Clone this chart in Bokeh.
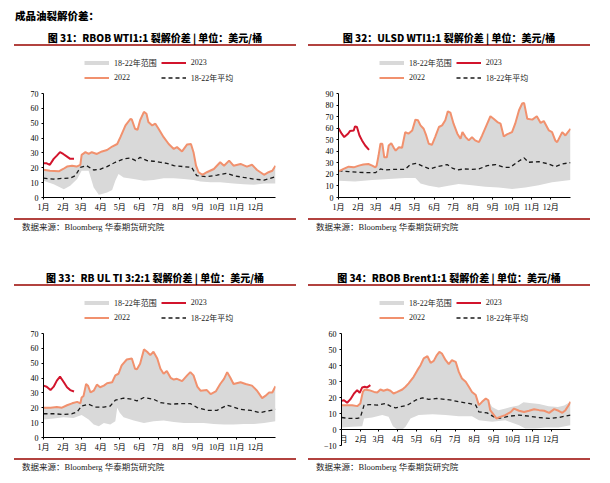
from bokeh.plotting import figure
from bokeh.models import Range1d, FixedTicker, Legend, LegendItem, Div, Spacer
from bokeh.layouts import column, row
from bokeh.embed import file_html
from bokeh.resources import INLINE

# ---------------- data ----------------
month_days = [0, 31, 59, 90, 120, 151, 181, 212, 243, 273, 304, 334]
month_labels = ["1月", "2月", "3月", "4月", "5月", "6月", "7月", "8月", "9月", "10月", "11月", "12月"]

header_text = "成品油裂解价差："
titles = ["图 31：RBOB WTI1:1 裂解价差 | 单位：美元/桶",
          "图 32：ULSD WTI1:1 裂解价差 | 单位：美元/桶",
          "图 33：RB UL TI 3:2:1 裂解价差 | 单位：美元/桶",
          "图 34：RBOB Brent1:1 裂解价差 | 单位：美元/桶"]
source_text = "数据来源：Bloomberg 华泰期货研究院"
legend_labels = ["18-22年范围", "2023", "2022", "18-22年平均"]

# Panel 1: RBOB WTI 1:1
p1_d22 = [0, 10, 24, 31, 37, 45, 52, 58, 60, 66, 71, 76, 84, 92, 100, 108, 116, 121, 129, 137, 139, 144, 148, 152,
          158, 162, 165, 171, 176, 181, 189, 197, 205, 210, 218, 226, 232, 236, 240, 244, 250, 257, 268, 278, 284,
          292, 299, 310, 320, 328, 336, 347, 354, 360, 365]
p1_v22 = [18.7, 18, 17.6, 19.2, 20.8, 21.4, 20.8, 22, 28.7, 30.5, 29.3, 30.5, 29.3, 31, 32, 34.3, 36, 40.6, 48.5,
          53, 52.4, 46.3, 45.6, 52, 57.6, 56.4, 50.8, 48.5, 49.7, 46.3, 40.6, 36, 32.7, 33.9, 31, 35.7, 36, 30.5,
          21.4, 17, 15.3, 17, 19.2, 23.7, 21.4, 24.8, 21.4, 22.6, 20.8, 22, 18.5, 15.3, 17, 18, 21.4]
p1_d23 = [0, 5, 10, 16, 21, 26, 31, 37, 42, 48]
p1_v23 = [23, 23, 22, 26, 28.2, 30.5, 29.3, 27.5, 26, 26]
p1_davg = [0, 16, 31, 42, 50, 58, 68, 79, 89, 100, 113, 126, 137, 145, 152, 163, 173, 184, 194, 205, 220, 233, 241,
           257, 273, 289, 299, 315, 331, 347, 365]
p1_vavg = [13, 12.4, 12.9, 13, 14.7, 20.3, 21.4, 18.5, 19, 20.8, 23.7, 26, 26.6, 24.8, 27, 24.8, 24.4, 23.7, 23,
           21.4, 20.8, 20.3, 14.7, 14, 15.1, 16.3, 14.7, 13.5, 12.4, 11.7, 14]
p1_dlo = [0, 16, 32, 42, 53, 60, 71, 79, 87, 92, 100, 108, 113, 118, 126, 142, 158, 173, 189, 205, 221, 236, 247,
          263, 278, 299, 315, 331, 347, 365]
p1_vlo = [11.3, 9, 5.6, 7.9, 12.4, 18, 18, 6.8, 1.8, 2.3, 3.4, 5, 11.3, 15.8, 13.5, 12.4, 11.3, 11.7, 13, 13, 12.4,
          11.7, 10.8, 10.2, 10.2, 9.5, 9, 8.6, 9.5, 9.5]
p1_dhi = p1_d22
p1_vhi = p1_v22

# Panel 2: ULSD WTI 1:1
p2_d22 = [0, 8, 16, 24, 32, 39, 47, 53, 58, 60, 63, 66, 69, 72, 76, 79, 83, 87, 90, 95, 100, 105, 110, 116, 121,
          125, 129, 134, 138, 142, 147, 152, 158, 163, 168, 172, 176, 181, 187, 192, 195, 200, 205, 210, 215, 221,
          226, 234, 239, 244, 250, 255, 260, 265, 273, 278, 284, 289, 292, 297, 305, 312, 318, 323, 331, 336, 341,
          344, 352, 357, 365]
p2_v22 = [22.6, 24.7, 26.7, 26.1, 27.6, 28.5, 29, 27.6, 26.1, 27.6, 36.3, 46.5, 46.5, 34.8, 34.8, 45, 47, 43, 40.6,
          43.5, 43, 56.6, 55.2, 58, 67.4, 66.8, 62.4, 59.5, 53.7, 46.5, 45.6, 52.3, 61, 62.4, 66.8, 74.6, 73.5, 63.9,
          55.2, 50.8, 56.6, 52.3, 49.4, 52.3, 49.4, 47.9, 53.7, 63.9, 70.3, 68.2, 65.3, 63.9, 52.8, 54.6, 56.6, 63.9,
          75.5, 81.3, 81.9, 68.2, 67.4, 70.3, 64.5, 66.2, 58, 56.6, 49.4, 47.9, 56.6, 53.7, 59.5]
p2_d23 = [0, 5, 9, 15, 18, 24, 26, 29, 33, 37, 42, 48]
p2_v23 = [60, 55.2, 52.3, 55.2, 57.5, 58, 61.6, 61, 53.7, 49.4, 45, 41.2]
p2_davg = [0, 16, 32, 47, 58, 66, 74, 89, 105, 113, 123, 134, 144, 155, 171, 179, 187, 197, 210, 221, 234, 247, 260,
           270, 281, 292, 299, 315, 331, 341, 352, 365]
p2_vavg = [23.2, 22.4, 21.8, 21.5, 21.5, 24.7, 23.8, 24.4, 24.4, 28.5, 29.6, 26.7, 24.7, 26.7, 28.5, 25.5, 23.8,
           24.7, 24.4, 24.7, 27.6, 28.5, 26.1, 26.1, 30.5, 34.3, 30.5, 31, 29, 26.7, 29, 30.2]
p2_dlo = [0, 26, 53, 79, 105, 121, 129, 142, 158, 173, 189, 210, 231, 252, 273, 294, 315, 336, 365]
p2_vlo = [14.5, 13.9, 15.1, 16, 16.8, 16.8, 12.2, 10.2, 8.7, 10.2, 11.6, 10.7, 9.3, 8.7, 7.3, 8.7, 10.7, 13.1, 15.1]
p2_dhi = p2_d22
p2_vhi = p2_v22

# Panel 3: RB UL TI 3:2:1
p3_d22 = [0, 11, 21, 29, 37, 45, 53, 58, 60, 63, 67, 70, 74, 79, 84, 89, 95, 100, 108, 113, 118, 123, 131, 139, 144,
          147, 152, 158, 163, 168, 173, 179, 184, 189, 194, 200, 205, 210, 218, 226, 231, 236, 242, 247, 257, 263,
          271, 278, 284, 289, 294, 299, 310, 318, 328, 336, 344, 349, 355, 360, 365]
p3_v22 = [20.1, 20.1, 20.5, 20.1, 21.7, 23, 24, 23, 26.9, 28, 36, 34.9, 30.3, 31.5, 35.6, 33.8, 34.9, 36.5, 37.2,
          41.8, 42.9, 48.6, 52.5, 53.2, 46.3, 45.9, 49.7, 59.3, 57.7, 55.4, 57.7, 53.2, 46.3, 42.9, 44.8, 40.2, 39,
          39.5, 37.9, 41.8, 44, 41.8, 34.2, 31.5, 31.9, 29.2, 31, 36, 39.5, 44, 40.2, 36, 37.2, 36, 34.9, 31.5, 26.5,
          28, 30.3, 30.3, 34.5]
p3_d23 = [0, 5, 11, 16, 21, 26, 32, 37, 42, 48]
p3_v23 = [34.9, 34.2, 31.9, 34.2, 38.3, 41, 37.2, 33.8, 31.9, 31]
p3_davg = [0, 16, 32, 45, 53, 60, 71, 81, 95, 105, 113, 126, 139, 147, 158, 173, 184, 200, 215, 231, 242, 257, 273,
           289, 299, 310, 326, 341, 352, 365]
p3_vavg = [16, 16, 15.5, 16, 17.3, 21.2, 22.4, 20.5, 20.5, 21.2, 25.1, 26.5, 25.8, 24.6, 26.9, 25.8, 23.5, 22.4,
           22.8, 22.8, 20.1, 18.3, 18.3, 21.7, 20.5, 18.9, 18.3, 16.7, 17.8, 18.9]
p3_dlo = [0, 16, 32, 47, 60, 71, 79, 87, 95, 105, 113, 116, 120, 126, 142, 158, 173, 189, 205, 221, 236, 252, 268,
          284, 299, 315, 331, 347, 365]
p3_vlo = [12.1, 12.8, 13.7, 13.2, 15.1, 12.1, 8.7, 7.5, 9.8, 8.7, 11, 20, 16.7, 13.7, 11.4, 9.8, 11, 11.4, 10.5,
          9.8, 9.8, 9.8, 9.1, 8.7, 8.7, 9.1, 9.1, 9.8, 11]
p3_dhi = p3_d22
p3_vhi = p3_v22

# Panel 4: RBOB Brent 1:1
p4_d22 = [0, 9, 17, 25, 30, 34, 37, 44, 52, 57, 62, 67, 73, 78, 83, 89, 97, 102, 107, 115, 121, 126, 131, 137, 142,
          147, 152, 156, 160, 166, 171, 176, 182, 187, 192, 198, 203, 208, 214, 219, 224, 230, 234, 237, 243, 247,
          253, 261, 270, 275, 283, 291, 299, 307, 315, 323, 331, 339, 346, 352, 357, 362, 365]
p4_v22 = [15.2, 15.2, 15.2, 14.6, 16.3, 23.5, 25, 24.6, 23.5, 23.1, 25, 24.2, 25, 24.2, 22.5, 23.5, 25, 26.7, 28.8,
          32.9, 37.1, 40.2, 44.4, 45.8, 41.7, 42.9, 46.5, 48.5, 47.5, 43.3, 40.8, 43.3, 42.3, 36, 31.9, 29.8, 26.7,
          23.5, 21.5, 15.2, 17.3, 19.4, 18.3, 12.1, 9, 6.9, 7.9, 9, 11, 13.1, 11.7, 11, 11.7, 12.7, 12.1, 11.7, 10.4,
          12.7, 11.7, 10.4, 12.1, 15.2, 17.3]
p4_d23 = [0, 4, 9, 14, 20, 25, 29, 33, 37, 41, 46]
p4_v23 = [17.9, 18.3, 16.7, 18.8, 22.5, 24.6, 22.9, 26.3, 26.7, 26.3, 27.7]
p4_davg = [0, 12, 25, 30, 36, 44, 57, 70, 78, 86, 94, 105, 118, 129, 139, 152, 166, 176, 187, 203, 214, 219, 232,
           243, 251, 267, 283, 299, 315, 331, 346, 365]
p4_vavg = [7.5, 6.9, 6.9, 7.5, 15.2, 15.6, 15.2, 16.3, 14.6, 13.5, 14.2, 15.2, 18.3, 19.8, 18.8, 19.4, 18.8, 18.3,
           17.3, 16.3, 15.2, 11, 10.4, 7.9, 6.9, 8.3, 9, 8.3, 7.5, 6.9, 7.5, 9]
p4_dlo = [0, 17, 33, 36, 49, 65, 75, 82, 89, 97, 102, 110, 123, 145, 166, 187, 208, 219, 240, 261, 283, 293, 309,
          325, 346, 365]
p4_vlo = [1.3, 1.7, 2.1, 6.9, 7.5, 9, 7.9, 2.1, 0, 0, 1.7, 6.9, 9, 9.6, 9, 8.3, 8.3, 5.8, 4.8, 5.8, 2.7, 0.6, 0.6,
          1.3, 1.3, 2.7]
p4_dhi = p4_d22[:42] + [234, 240, 250, 260, 270, 282, 290, 300, 315, 330, 345, 355, 365]
p4_vhi = p4_v22[:42] + [18.3, 14, 12, 13, 14, 15, 17, 16.5, 16, 14.5, 14, 15, 17.3]

# ---------------- styling ----------------
SERIF = "'Liberation Serif', 'Noto Sans CJK SC'"
C_BAND = "#d9d9d9"
C_2022 = "#f1916e"
C_2023 = "#d2142c"
C_AVG = "#1a1a1a"
C_RULE = "#b2423f"
PANEL_W = 297
FIG_H = 170
TOP = 45          # pixels above the data area reserved for the legend
LEG_BOTTOM = 35   # legend bottom edge, pixels from the figure top


def make_fig(ymin, ymax, d22, v22, d23, v23, davg, vavg, dlo, vlo, dhi, vhi, left, right, bottom, leg_x,
             axis_at_zero=False):
    data_h = FIG_H - TOP - bottom
    y_top = ymax + TOP * (ymax - ymin) / data_h
    p = figure(width=PANEL_W, height=FIG_H, x_range=Range1d(0, 365), y_range=Range1d(ymin, y_top),
               toolbar_location=None, output_backend="svg", title_location=None,
               min_border_left=left, min_border_right=right, min_border_top=0, min_border_bottom=bottom)
    p.outline_line_color = None
    p.grid.visible = False
    p.background_fill_color = "white"
    p.border_fill_color = "white"

    band_x = list(dhi) + list(reversed(dlo))
    band_y = list(vhi) + list(reversed(vlo))
    p.patch(band_x, band_y, fill_color=C_BAND, line_color=None)
    # legend swatch for the range band (hidden on the plot, shown in the legend)
    band_key = p.line(dhi, vhi, line_color=C_BAND, line_width=4, visible=False)
    ravg = p.line(davg, vavg, line_color=C_AVG, line_width=1.3, line_dash="4 3")
    r22 = p.line(d22, v22, line_color=C_2022, line_width=2)
    r23 = p.line(d23, v23, line_color=C_2023, line_width=2)

    p.xaxis.ticker = FixedTicker(ticks=month_days)
    p.xaxis.major_label_overrides = {d: lab for d, lab in zip(month_days, month_labels)}
    p.yaxis.ticker = FixedTicker(ticks=list(range(ymin, ymax + 1, 10)))
    p.yaxis.bounds = (ymin, ymax)
    for ax in (p.xaxis, p.yaxis):
        ax.axis_line_color = "black"
        ax.axis_line_width = 1
        ax.major_tick_line_color = "black"
        ax.major_tick_out = 2
        ax.major_tick_in = 0
        ax.minor_tick_line_color = None
        ax.major_label_text_font = SERIF
        ax.major_label_text_font_size = "8px"
        ax.major_label_text_color = "black"
        ax.major_label_standoff = 3
    if axis_at_zero:
        p.xaxis.fixed_location = 0

    frame_h = FIG_H - bottom
    legend = Legend(items=[LegendItem(label=legend_labels[0], renderers=[band_key]),
                           LegendItem(label=legend_labels[1], renderers=[r23]),
                           LegendItem(label=legend_labels[2], renderers=[r22]),
                           LegendItem(label=legend_labels[3], renderers=[ravg])],
                    orientation="horizontal", ncols=2, location=(leg_x, frame_h - LEG_BOTTOM),
                    glyph_width=25, glyph_height=5, label_height=10, label_width=40,
                    label_standoff=5, spacing=4, padding=3, margin=0, click_policy="none",
                    label_text_font=SERIF, label_text_font_size="8px", label_text_color="#222222",
                    border_line_color=None, background_fill_alpha=0)
    p.add_layout(legend, "center")
    return p


def title_div(text, offset):
    html = (f'<div style="margin-left:{offset}px;width:282px;height:16px;border-bottom:2px solid {C_RULE};'
            f'text-align:center;font-family:\'Noto Sans CJK SC\';font-weight:900;font-size:10px;'
            f'line-height:15px;color:#000;white-space:nowrap">{text}</div>')
    return Div(text=html, width=PANEL_W, height=18, margin=0)


def source_div(offset):
    html = (f'<div style="margin-left:{offset}px;width:282px;height:15px;border-top:2px solid {C_RULE};'
            f'padding-left:8px;box-sizing:border-box;font-family:{SERIF};font-size:8.5px;line-height:15px;'
            f'color:#222;white-space:nowrap">{source_text}</div>')
    return Div(text=html, width=PANEL_W, height=17, margin=0)


f1 = make_fig(0, 70, p1_d22, p1_v22, p1_d23, p1_v23, p1_davg, p1_vavg, p1_dlo, p1_vlo, p1_dhi, p1_vhi,
              35, 30, 21, 41)
f2 = make_fig(0, 90, p2_d22, p2_v22, p2_d23, p2_v23, p2_davg, p2_vavg, p2_dlo, p2_vlo, p2_dhi, p2_vhi,
              33, 32, 21, 41)
f3 = make_fig(0, 70, p3_d22, p3_v22, p3_d23, p3_v23, p3_davg, p3_vavg, p3_dlo, p3_vlo, p3_dhi, p3_vhi,
              35, 30, 21, 41)
f4 = make_fig(-10, 60, p4_d22, p4_v22, p4_d23, p4_v23, p4_davg, p4_vavg, p4_dlo, p4_vlo, p4_dhi, p4_vhi,
              36, 32, 13, 38, axis_at_zero=True)

panel1 = column(title_div(titles[0], 6), f1, source_div(6), spacing=0)
panel2 = column(title_div(titles[1], 3), f2, source_div(3), spacing=0)
panel3 = column(title_div(titles[2], 6), f3, source_div(6), spacing=0)
panel4 = column(title_div(titles[3], 3), f4, source_div(3), spacing=0)

header = Div(text=(f'<div style="margin-left:7px;font-family:\'Noto Sans CJK SC\';font-weight:900;'
                   f'font-size:10.5px;line-height:14px;color:#000">{header_text}</div>'),
             width=594, height=22, margin=0)

layout = column(header, row(panel1, panel2, spacing=0), Spacer(width=594, height=35, margin=0),
                row(panel3, panel4, spacing=0), spacing=0, margin=(8, 0, 0, 8))

open("out.html", "w").write(file_html(layout, INLINE))
